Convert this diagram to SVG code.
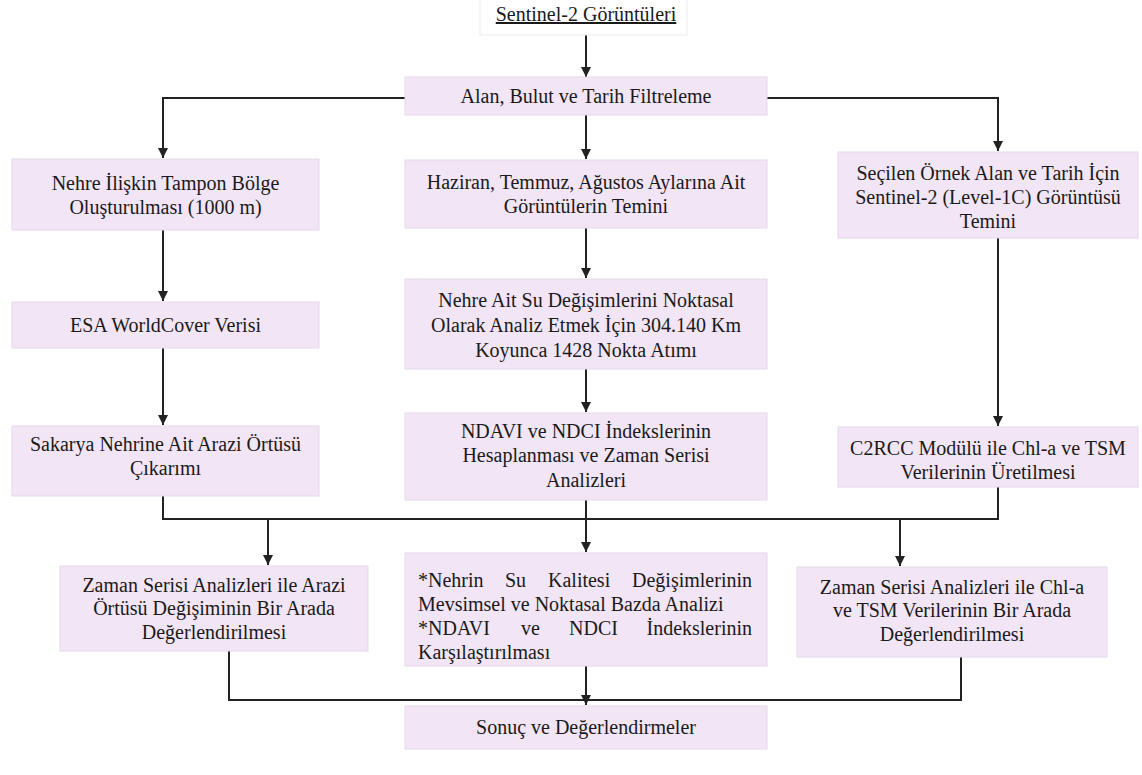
<svg xmlns="http://www.w3.org/2000/svg" width="1142" height="775" viewBox="0 0 1142 775">
<defs>
<style>
.box{fill:#f2e5f5;stroke:#e6d6ea;stroke-width:1}
.top{fill:#ffffff;stroke:#ececec;stroke-width:1}
.c{text-anchor:middle}
.e{text-anchor:end}
.ln{fill:none;stroke:#222;stroke-width:2}
</style>
<marker id="ah" viewBox="0 0 10 10" refX="10" refY="5" markerWidth="10" markerHeight="10" markerUnits="userSpaceOnUse" orient="auto">
<path d="M0,0 L10,5 L0,10 z" fill="#222"/>
</marker>
</defs>
<rect width="1142" height="775" fill="#ffffff"/>

<g id="connectors">
<path class="ln" d="M586,35 V77" marker-end="url(#ah)"/>
<path class="ln" d="M405,98 H163 V158" marker-end="url(#ah)"/>
<path class="ln" d="M767,98 H998 V151" marker-end="url(#ah)"/>
<path class="ln" d="M586,115 V159" marker-end="url(#ah)"/>
<path class="ln" d="M163,230 V301" marker-end="url(#ah)"/>
<path class="ln" d="M163,348 V425" marker-end="url(#ah)"/>
<path class="ln" d="M586,228 V278" marker-end="url(#ah)"/>
<path class="ln" d="M586,369 V412" marker-end="url(#ah)"/>
<path class="ln" d="M998,238 V426" marker-end="url(#ah)"/>
<path class="ln" d="M163,496 V519 H998 V487"/>
<path class="ln" d="M586,500 V552" marker-end="url(#ah)"/>
<path class="ln" d="M268,519 V565" marker-end="url(#ah)"/>
<path class="ln" d="M900,519 V566" marker-end="url(#ah)"/>
<path class="ln" d="M229,651 V700 H961 V657"/>
<path class="ln" d="M586,666 V705" marker-end="url(#ah)"/>
</g>

<g font-family="Liberation Serif" font-size="20" fill="#1a1a1a">
<g id="n-sentinel">
<rect class="top" x="480" y="-1" width="207" height="36"/>
<text class="c" x="586" y="21" text-decoration="underline">Sentinel-2 Görüntüleri</text>
</g>

<g id="n-filtre">
<rect class="box" x="405" y="77" width="362" height="38"/>
<text class="c" x="586" y="103">Alan, Bulut ve Tarih Filtreleme</text>
</g>

<g id="n-tampon">
<rect class="box" x="12" y="159" width="307" height="71"/>
<text class="c" x="165.5" y="190">Nehre İlişkin Tampon Bölge</text>
<text class="c" x="165.5" y="214">Oluşturulması (1000 m)</text>
</g>

<g id="n-haziran">
<rect class="box" x="405" y="160" width="362" height="68"/>
<text class="c" x="586" y="189">Haziran, Temmuz, Ağustos Aylarına Ait</text>
<text class="c" x="586" y="213">Görüntülerin Temini</text>
</g>

<g id="n-secilen">
<rect class="box" x="838" y="152" width="300" height="86"/>
<text class="c" x="988" y="180">Seçilen Örnek Alan ve Tarih İçin</text>
<text class="c" x="988" y="204">Sentinel-2 (Level-1C) Görüntüsü</text>
<text class="c" x="988" y="228">Temini</text>
</g>

<g id="n-esa">
<rect class="box" x="12" y="302" width="307" height="46"/>
<text class="c" x="165.5" y="332">ESA WorldCover Verisi</text>
</g>

<g id="n-nokta">
<rect class="box" x="405" y="279" width="362" height="90"/>
<text class="c" x="586" y="307">Nehre Ait Su Değişimlerini Noktasal</text>
<text class="c" x="586" y="332">Olarak Analiz Etmek İçin 304.140 Km</text>
<text class="c" x="586" y="357">Koyunca 1428 Nokta Atımı</text>
</g>

<g id="n-sakarya">
<rect class="box" x="12" y="426" width="307" height="70"/>
<text class="c" x="165.5" y="451">Sakarya Nehrine Ait Arazi Örtüsü</text>
<text class="c" x="165.5" y="475">Çıkarımı</text>
</g>

<g id="n-ndavi">
<rect class="box" x="405" y="413" width="362" height="87"/>
<text class="c" x="586" y="438">NDAVI ve NDCI İndekslerinin</text>
<text class="c" x="586" y="462">Hesaplanması ve Zaman Serisi</text>
<text class="c" x="586" y="487">Analizleri</text>
</g>

<g id="n-c2rcc">
<rect class="box" x="838" y="427" width="300" height="60"/>
<text class="c" x="988" y="455">C2RCC Modülü ile Chl-a ve TSM</text>
<text class="c" x="988" y="479">Verilerinin Üretilmesi</text>
</g>

<g id="n-arazi-zaman">
<rect class="box" x="60" y="566" width="308" height="85"/>
<text class="c" x="214" y="592">Zaman Serisi Analizleri ile Arazi</text>
<text class="c" x="214" y="615">Örtüsü Değişiminin Bir Arada</text>
<text class="c" x="214" y="639">Değerlendirilmesi</text>
</g>

<g id="n-kalite">
<rect class="box" x="405" y="553" width="362" height="113"/>
<text x="418" y="587">*Nehrin</text>
<text x="505" y="587">Su</text>
<text x="548" y="587">Kalitesi</text>
<text class="e" x="752" y="587">Değişimlerinin</text>
<text x="418" y="611">Mevsimsel ve Noktasal Bazda Analizi</text>
<text x="418" y="635">*NDAVI</text>
<text x="521" y="635">ve</text>
<text x="569" y="635">NDCI</text>
<text class="e" x="752" y="635">İndekslerinin</text>
<text x="418" y="659">Karşılaştırılması</text>
</g>

<g id="n-chl-zaman">
<rect class="box" x="797" y="567" width="310" height="90"/>
<text class="c" x="952" y="594">Zaman Serisi Analizleri ile Chl-a</text>
<text class="c" x="952" y="617">ve TSM Verilerinin Bir Arada</text>
<text class="c" x="952" y="641">Değerlendirilmesi</text>
</g>

<g id="n-sonuc">
<rect class="box" x="405" y="706" width="362" height="43"/>
<text class="c" x="586" y="734">Sonuç ve Değerlendirmeler</text>
</g>
</g>
</svg>
